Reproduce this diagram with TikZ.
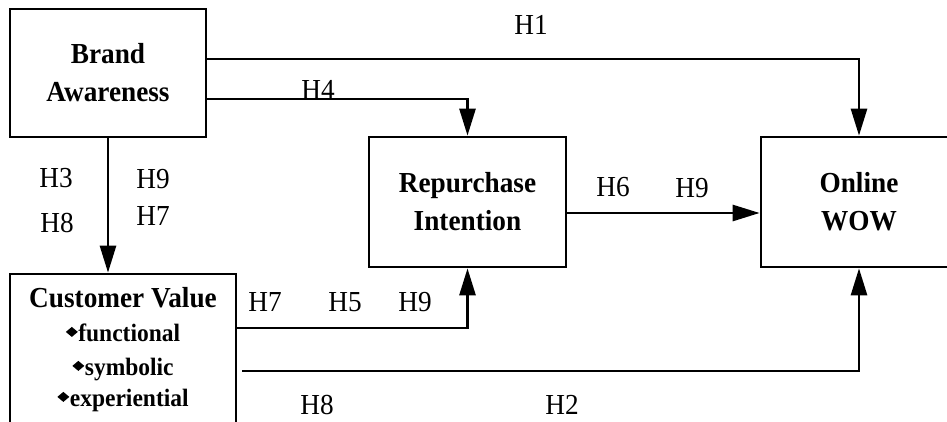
\documentclass[tikz,border=0pt]{standalone}
\usepackage{fontspec}
\setmainfont{Liberation Serif}[FakeStretch=0.94]
\usetikzlibrary{arrows.meta}
\newcommand{\dmd}{\tikz[baseline=0pt]{\fill (0,10pt) -- (6pt,15pt) -- (12pt,10pt) -- (6pt,5pt) -- cycle;}\hspace{0.5pt}}
\newcommand{\itemfont}{\fontsize{25}{38}\selectfont}
\begin{document}
\begin{tikzpicture}[x=1pt,y=1pt,
  box/.style={draw=black, line width=2.7pt, inner sep=0pt, align=center,
    font=\bfseries\fontsize{29}{38}\selectfont},
  conn/.style={line width=2.7pt, -{Triangle[length=27pt,width=16pt]}},
  lbl/.style={font=\fontsize{29}{30}\selectfont, inner sep=0pt}]
\useasboundingbox (0,0) rectangle (947,421);
\node[box, minimum width=196pt, minimum height=128pt] (BA) at (108,348) {Brand\\Awareness};
\node[box, minimum width=226pt, minimum height=152pt] (CV) at (123,71)
  {Customer Value\\[-4pt]\itemfont\dmd functional\\[-4pt]\itemfont\dmd symbolic\\[-7pt]\itemfont\dmd experiential};
\node[box, minimum width=197pt, minimum height=130pt] (RI) at (467.5,219) {Repurchase\\Intention};
\node[box, minimum width=196pt, minimum height=130pt] (WOW) at (859,219) {Online\\WOW};
\draw[conn] ([yshift=14pt]BA.east) -| (WOW.north);
\draw[conn] ([yshift=-26pt]BA.east) -| (RI.north);
\draw[conn] (BA.south) -- (BA.south |- CV.north);
\draw[conn] ([yshift=22pt]CV.east) -| (RI.south);
\draw[conn] ([xshift=5pt,yshift=-21pt]CV.east) -| (WOW.south);
\draw[conn] ([yshift=-11pt]RI.east) -- ([yshift=-11pt]WOW.west);
\node[lbl] (h1) at (531,396) {H1};
\node[lbl] (h4) at (318,331) {H4};
\node[lbl] (h3a) at (56,243) {H3};
\node[lbl] (h8a) at (57,198) {H8};
\node[lbl] (h9a) at (153,242) {H9};
\node[lbl] (h7a) at (153,205) {H7};
\node[lbl] (h7b) at (265,119) {H7};
\node[lbl] (h5) at (345,119) {H5};
\node[lbl] (h9b) at (415,119) {H9};
\node[lbl] (h8b) at (317,16) {H8};
\node[lbl] (h2) at (562,16) {H2};
\node[lbl] (h6) at (613,234) {H6};
\node[lbl] (h9c) at (692,233) {H9};
\end{tikzpicture}
\end{document}
